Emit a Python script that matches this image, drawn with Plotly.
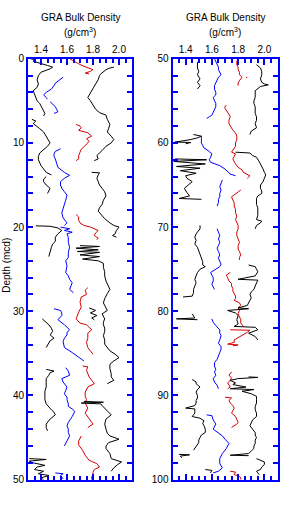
import plotly.graph_objects as go

# ---------------- data: segments of (depth [mcd], GRA density [g/cm3]) ----------------
# Left panel 0-50 mcd
black_a_top = [
    [(0.0,1.32),(0.1,1.35),(0.3,1.34),(0.5,1.39),(0.8,1.45),(1.0,1.49),(1.2,1.47),(1.6,1.40),(2.0,1.38),(2.5,1.37),
     (3.0,1.38),(3.4,1.37),(3.8,1.34),(4.2,1.35),(4.6,1.36),(5.0,1.37),(5.3,1.39),(5.8,1.41),(6.2,1.42),(6.5,1.43),(6.8,1.42)],
    [(7.2,1.33),(7.4,1.36),(7.7,1.34),(8.0,1.37),(8.3,1.39),(8.7,1.42),(9.2,1.44),(9.6,1.46),(10.0,1.47),(10.4,1.45),
     (10.8,1.42),(11.2,1.39),(11.6,1.38),(12.0,1.38),(12.7,1.40),(13.1,1.42),(13.5,1.44),(13.8,1.48)],
    [(14.0,1.44),(14.3,1.42),(14.6,1.42),(15.0,1.44),(15.4,1.47),(15.8,1.46),(16.0,1.45)],
    [(19.85,1.36),(19.9,1.47),(20.1,1.53),(20.4,1.56),(20.8,1.53),(21.2,1.51),(21.7,1.51),(22.0,1.49),(22.4,1.48),
     (22.9,1.47),(23.5,1.46)],
    [(30.9,1.41),(31.3,1.44),(31.6,1.46),(32.0,1.48),(32.4,1.49),(32.8,1.47),(33.2,1.50),(33.5,1.47),(33.8,1.46),(34.3,1.44)],
    [(36.9,1.44),(37.1,1.50),(37.3,1.47),(37.6,1.46),(38.0,1.44),(38.5,1.44),(39.0,1.44),(39.5,1.43),(40.0,1.43),
     (40.5,1.43),(41.0,1.44),(41.4,1.46),(41.7,1.48),(42.0,1.50),(42.3,1.51),(42.8,1.47),(43.4,1.44),(43.8,1.44),(44.2,1.45)],
    [(47.5,1.31),(47.6,1.44),(47.8,1.31),(48.0,1.34),(48.3,1.43),(48.5,1.37),(48.8,1.35),(49.0,1.42),(49.3,1.38),
     (49.5,1.46),(49.8,1.40),(50.0,1.42)],
]
blue_top = [
    [(2.2,1.57),(2.3,1.56),(2.6,1.53),(2.9,1.51),(3.2,1.50),(3.6,1.48),(4.0,1.44),(4.3,1.42),(4.6,1.44),(4.8,1.45)],
    [(5.1,1.47),(5.4,1.49),(5.7,1.51),(6.0,1.52),(6.3,1.53),(6.5,1.50)],
    [(10.7,1.55),(11.0,1.51),(11.3,1.50),(11.6,1.50),(11.9,1.51),(12.3,1.52),(12.9,1.53),(13.5,1.58),(13.85,1.62),
     (14.2,1.58),(14.6,1.55),(15.0,1.55),(15.4,1.56),(15.8,1.58),(16.2,1.60),(16.8,1.59),(17.3,1.58),(17.7,1.57),
     (18.3,1.56),(18.9,1.57),(19.5,1.60),(19.8,1.58)],
    [(20.0,1.55),(20.2,1.62),(20.4,1.58),(20.6,1.64),(20.8,1.60),(21.2,1.61),(21.8,1.61),(22.4,1.62),(23.0,1.61),
     (23.6,1.61),(24.0,1.59),(24.6,1.60),(25.4,1.59),(25.8,1.61),(26.2,1.62),(26.6,1.64),(27.0,1.63),(27.4,1.62),(27.8,1.65)],
    [(29.7,1.50),(29.9,1.55),(30.2,1.56),(30.5,1.56),(31.0,1.53),(31.3,1.56),(31.6,1.58),(32.2,1.62),(32.5,1.60),
     (32.8,1.60),(33.2,1.58),(33.6,1.57),(34.3,1.58),(34.9,1.64),(35.2,1.67),(35.5,1.70),(35.9,1.73)],
    [(36.7,1.59),(37.1,1.61),(37.6,1.62),(38.0,1.56),(38.4,1.57),(39.0,1.60),(39.4,1.59),(39.8,1.58),(40.2,1.60),
     (40.5,1.60),(41.0,1.61),(41.3,1.61),(41.6,1.64),(41.9,1.66),(42.5,1.64),(43.2,1.61),(43.6,1.60),(44.0,1.61),
     (44.4,1.61),(44.8,1.62),(45.4,1.60),(45.8,1.59),(46.0,1.58)],
    [(49.2,1.51),(49.3,1.57),(49.5,1.55),(49.7,1.56),(49.9,1.57)],
]
red_top = [
    [(0.0,1.62),(0.2,1.64),(0.4,1.67),(0.6,1.69),(0.9,1.73),(1.1,1.77),(1.3,1.80),(1.5,1.78),(1.7,1.74),(1.8,1.77)],
    [(7.8,1.67),(8.0,1.70),(8.2,1.71),(8.5,1.69),(8.8,1.76),(9.2,1.79),(9.5,1.75),(9.8,1.77),(10.0,1.76),(10.4,1.73),
     (10.75,1.71),(11.1,1.70),(11.5,1.69),(11.9,1.69),(12.1,1.67)],
    [(18.5,1.67),(18.8,1.69),(19.2,1.69),(19.5,1.70),(19.8,1.73),(20.0,1.78),(20.4,1.84),(20.7,1.82),(21.0,1.81),
     (21.3,1.84),(21.5,1.83)],
    [(27.2,1.76),(27.5,1.74),(28.0,1.75),(28.3,1.71),(28.9,1.70),(29.5,1.71),(30.1,1.69),(30.6,1.68),(30.9,1.67),
     (31.4,1.70),(31.6,1.75),(31.9,1.77),(32.2,1.79),(32.6,1.76),(33.2,1.76),(33.7,1.75),(34.3,1.76),(34.7,1.78),(35.1,1.80)],
    [(36.5,1.72),(36.6,1.76),(37.0,1.75),(37.4,1.76),(37.8,1.77),(38.2,1.79),(38.6,1.81),(39.0,1.76),(39.6,1.74),
     (40.1,1.74),(40.5,1.75),(40.9,1.74),(41.5,1.76),(42.1,1.74),(42.5,1.76),(42.8,1.77),(43.1,1.79),(43.4,1.80),(43.8,1.76)],
    [(44.8,1.71),(45.1,1.70),(45.4,1.69),(45.9,1.69),(46.5,1.72),(47.1,1.74),(47.5,1.76),(47.7,1.77),(48.1,1.83),
     (48.5,1.85),(48.8,1.81),(49.1,1.80),(49.4,1.80),(49.7,1.79),(50.0,1.79)],
]
black_b_top = [
    [(1.0,1.96),(1.1,1.93),(1.3,1.90),(1.5,1.88),(1.8,1.86),(2.0,1.85),(2.5,1.84),(3.0,1.82),(3.5,1.80),(4.0,1.78),
     (4.3,1.77),(4.6,1.76),(5.0,1.78),(5.5,1.80),(6.0,1.82),(6.4,1.85),(6.7,1.90),(7.2,1.91),(7.8,1.93),(8.3,1.92),
     (8.7,1.91),(9.2,1.94),(9.6,1.96),(10.0,1.94),(10.4,1.90),(10.9,1.87),(11.5,1.83),(11.9,1.84),(12.1,1.81)],
    [(13.5,1.79),(13.55,1.85),(13.8,1.84),(14.2,1.83),(14.6,1.84),(15.0,1.85),(15.4,1.87),(15.8,1.89),(16.3,1.90),
     (16.8,1.88),(17.3,1.87),(17.7,1.85),(18.1,1.84),(18.6,1.87),(19.0,1.89),(19.5,1.93),(19.8,1.96),(20.0,2.00),
     (20.4,1.98),(20.8,1.97),(21.0,1.95),(21.2,1.98)],
    [(22.2,1.70),(22.3,1.85),(22.5,1.67),(22.7,1.84),(22.9,1.68),(23.0,1.85),(23.3,1.70),(23.5,1.85),(23.8,1.72),
     (24.0,1.84),(24.3,1.88),(24.8,1.88),(25.3,1.89),(25.8,1.89),(26.4,1.90),(27.0,1.92),(27.4,1.93),(27.9,1.91),
     (28.5,1.89),(29.0,1.88),(29.5,1.90),(29.9,1.91),(30.3,1.87),(30.9,1.89),(31.3,1.88),(31.6,1.88),(32.0,1.89),
     (32.4,1.89),(32.9,1.88),(33.4,1.89),(33.9,1.89),(34.3,1.91),(34.7,1.93),(35.1,1.97),(35.5,2.00),(35.9,1.96),
     (36.3,1.93),(36.8,1.93),(37.4,1.94),(37.8,1.94),(38.2,1.96),(38.6,1.91)],
    [(29.6,1.77),(29.9,1.82),(30.2,1.78),(30.5,1.83),(30.8,1.79),(31.0,1.81)],
    [(40.7,1.73),(40.8,1.88),(40.9,1.71),(41.0,1.86),(41.2,1.87),(41.5,1.89),(41.9,1.92),(42.3,1.94),(42.8,1.90),
     (43.4,1.89),(44.0,1.90),(44.5,1.91),(44.8,1.93),(45.2,2.00),(45.6,1.92),(46.0,1.90),(46.3,1.90),(46.9,1.93),
     (47.5,1.94),(47.9,2.02),(48.2,1.99),(48.6,1.96),(49.0,1.94)],
]

# Right panel 50-100 mcd
black_a_bot = [
    [(50.0,1.51),(50.3,1.50),(50.5,1.49),(51.1,1.49),(51.5,1.50),(51.9,1.49),(52.4,1.51),(52.8,1.49),(53.2,1.51),(53.6,1.49)],
    [(59.0,1.46),(59.2,1.52),(59.4,1.49),(59.6,1.44),(59.9,1.32),(59.95,1.44),(60.1,1.40)],
    [(61.9,1.32),(62.0,1.56),(62.2,1.31),(62.5,1.55),(62.8,1.33),(63.0,1.51),(63.3,1.36),(63.6,1.48),(63.9,1.40),
     (64.2,1.41),(64.6,1.45),(65.0,1.42),(65.4,1.39),(65.9,1.41),(66.3,1.43),(66.6,1.35),(66.7,1.52)],
    [(69.8,1.51),(70.2,1.51),(70.8,1.48),(71.2,1.47),(71.6,1.48),(72.0,1.47),(72.4,1.49),(72.8,1.50),(73.1,1.51),
     (73.7,1.52),(74.1,1.53),(74.5,1.53),(74.7,1.55),(75.0,1.51),(75.4,1.49),(75.8,1.48),(76.2,1.47),(76.6,1.48),
     (77.0,1.47),(77.4,1.46),(77.8,1.46),(78.2,1.45),(78.3,1.38)],
    [(80.3,1.45),(80.6,1.46),(80.8,1.47),(80.9,1.33),(81.0,1.49)],
    [(88.1,1.45),(88.4,1.48),(88.6,1.48),(89.0,1.51),(89.3,1.49),(89.6,1.48),(90.0,1.49),(90.3,1.49),(90.6,1.48),
     (90.9,1.48),(91.2,1.47),(91.5,1.40),(91.6,1.47),(92.1,1.47),(92.5,1.45),(92.7,1.51),(93.0,1.54),(93.3,1.53),
     (93.6,1.54),(94.0,1.55),(94.4,1.55),(94.7,1.52),(95.0,1.51),(95.3,1.50),(95.6,1.50),(96.1,1.48),(96.5,1.46)],
    [(97.0,1.35),(97.05,1.43),(97.2,1.36),(97.4,1.37)],
    [(98.8,1.55),(98.9,1.60),(99.2,1.59)],
]
blue_bot = [
    [(50.0,1.62),(50.3,1.63),(50.7,1.64),(51.0,1.65),(51.3,1.65),(51.6,1.66),(51.9,1.67),(52.2,1.65),(52.5,1.64),
     (52.8,1.63),(53.2,1.62),(53.6,1.62),(54.0,1.63),(54.3,1.63),(54.6,1.61),(55.0,1.62),(55.3,1.63),(55.7,1.63),
     (56.0,1.62),(56.3,1.61),(56.7,1.60),(56.9,1.58),(57.1,1.56)],
    [(59.2,1.52),(59.6,1.52),(60.0,1.52),(60.3,1.53),(60.6,1.54),(60.9,1.57),(61.3,1.60),(61.7,1.59),(62.0,1.58),
     (62.3,1.59),(62.5,1.62),(62.7,1.66),(63.1,1.70),(63.4,1.72),(63.7,1.74),(63.9,1.78)],
    [(64.4,1.68),(64.8,1.67),(65.2,1.66),(65.6,1.67),(66.0,1.66),(66.4,1.66),(66.7,1.65),(67.1,1.65),(67.5,1.64)],
    [(70.2,1.64),(70.6,1.65),(71.0,1.66),(71.4,1.65),(71.8,1.66),(72.2,1.65),(72.5,1.64),(72.9,1.65),(73.3,1.66),
     (73.7,1.65),(74.1,1.66),(74.4,1.67),(74.7,1.66),(75.0,1.63),(75.4,1.59),(75.7,1.60),(76.0,1.61),(76.4,1.61),
     (76.8,1.60),(77.1,1.61),(77.4,1.62)],
    [(80.9,1.60),(81.3,1.61),(81.7,1.63),(82.2,1.66),(82.6,1.66),(82.9,1.67),(83.4,1.66),(83.8,1.65),(84.2,1.67),
     (84.5,1.67),(84.9,1.66),(85.3,1.65),(85.7,1.64),(86.1,1.62),(86.5,1.62),(86.9,1.63),(87.2,1.62),(87.6,1.63),
     (88.0,1.61),(88.4,1.62),(88.8,1.64),(89.2,1.65)],
    [(92.3,1.56),(92.4,1.60),(92.9,1.61),(93.4,1.63),(94.0,1.61),(94.4,1.65),(94.8,1.68),(95.2,1.70),(95.7,1.73),
     (96.3,1.71),(96.9,1.68),(97.5,1.66),(98.1,1.66),(98.6,1.68),(99.0,1.65),(99.2,1.61)],
]
red_bot = [
    [(50.0,1.80),(50.3,1.79),(50.7,1.79),(51.0,1.80),(51.3,1.80),(51.6,1.81),(51.9,1.81),(52.2,1.83),(52.6,1.81),
     (52.9,1.80),(53.2,1.80)],
    [(52.2,1.86),(52.25,1.87)],
    [(55.5,1.71),(55.7,1.70),(55.9,1.70),(56.3,1.72),(56.6,1.73),(56.9,1.74),(57.3,1.73),(57.7,1.73),(58.2,1.75),
     (58.5,1.76),(58.8,1.78),(59.2,1.79),(59.6,1.79),(60.0,1.78),(60.4,1.78),(60.8,1.76),(61.1,1.75),(61.3,1.78),
     (61.9,1.76),(62.5,1.78),(62.9,1.80),(63.2,1.83),(63.5,1.84),(63.9,1.89),(64.2,1.87)],
    [(65.6,1.82),(65.9,1.79),(66.2,1.76),(66.4,1.75),(66.8,1.76),(67.1,1.77),(67.5,1.77),(67.9,1.78),(68.3,1.78),
     (68.7,1.79),(69.1,1.78),(69.5,1.79),(69.8,1.80),(70.2,1.80),(70.6,1.79),(71.0,1.79),(71.4,1.80),(71.8,1.81),
     (72.2,1.80),(72.6,1.80),(72.9,1.81),(73.3,1.82),(73.6,1.81),(73.9,1.81)],
    [(75.4,1.74),(75.7,1.71),(76.0,1.72),(76.4,1.73),(76.7,1.75),(77.0,1.75),(77.3,1.76),(77.6,1.76),(77.9,1.77),
     (78.2,1.78),(78.5,1.78),(78.7,1.77),(79.0,1.81),(79.3,1.82),(79.6,1.80),(79.9,1.81),(80.3,1.80),(80.7,1.81),
     (81.0,1.82),(81.4,1.82),(81.8,1.84)],
    [(82.2,1.74),(82.25,1.89),(82.5,1.87),(82.8,1.84),(83.0,1.81),(83.2,1.79),(83.4,1.77),(83.7,1.77),(83.9,1.72),
     (84.0,1.80),(84.1,1.76)],
    [(87.2,1.75),(87.4,1.74),(87.6,1.73),(87.9,1.75),(88.2,1.74),(88.5,1.72),(88.8,1.73),(89.0,1.74),(89.2,1.72)],
    [(90.2,1.70),(90.3,1.75),(90.6,1.73),(90.9,1.74),(91.2,1.76),(91.5,1.77),(91.8,1.76),(92.1,1.75),(92.5,1.78),
     (92.9,1.79),(93.2,1.80),(93.4,1.79),(93.8,1.75)],
    [(99.0,1.74),(99.1,1.78),(99.4,1.77),(99.6,1.81),(99.8,1.82),(100.0,1.82)],
]
black_b_bot = [
    [(50.7,1.94),(51.1,1.97),(51.5,1.98),(51.9,1.98),(52.4,1.97),(52.8,1.98),(53.0,2.00),(53.1,2.03),(53.3,1.97),
     (53.6,1.94),(53.8,1.93),(54.2,1.93),(54.6,1.93),(55.0,1.92),(55.3,1.92),(55.7,1.93),(56.1,1.93),(56.5,1.93),
     (56.9,1.94),(57.3,1.94),(57.7,1.93),(58.2,1.94),(58.6,1.90),(59.0,1.89)],
    [(61.1,1.78),(61.2,1.89),(61.5,1.91),(61.7,1.94),(62.2,1.96),(62.7,1.98),(63.1,1.99),(63.5,2.00),(63.8,2.01),
     (64.2,2.00),(64.6,1.99),(65.0,1.97),(65.4,1.97),(65.7,1.98),(66.0,1.98),(66.3,1.95),(66.6,1.94),(67.0,1.94),
     (67.3,1.94),(67.7,1.95),(68.1,1.95),(68.6,1.95),(69.1,1.94),(69.3,1.98),(69.5,1.97),(69.8,1.94),(70.2,1.93)],
    [(74.5,1.88),(74.7,1.93),(75.0,1.94),(75.3,1.95),(75.8,1.93),(76.2,1.80),(76.3,1.95),(76.6,1.94),(77.0,1.93),
     (77.4,1.92),(77.7,1.90),(78.0,1.89),(78.4,1.90),(78.7,1.89),(79.0,1.88),(79.3,1.87),(79.6,1.80),(79.7,1.88),
     (79.9,1.72),(80.2,1.78),(80.5,1.80),(81.0,1.79),(81.5,1.80),(81.8,1.77),(81.9,1.93),(82.2,1.95),(82.6,1.88),
     (83.0,1.93),(83.4,1.95)],
    [(87.8,1.88),(87.85,1.95),(88.0,1.80),(88.2,1.74),(88.5,1.78),(88.7,1.76),(89.0,1.86),(89.2,1.74),(89.3,1.92),
     (89.5,1.83),(89.8,1.90),(90.1,1.94),(90.5,1.94),(90.9,1.94),(91.3,1.93),(91.7,1.93),(92.1,1.94),(92.5,1.94),
     (92.9,1.91),(93.2,1.90),(93.6,1.89),(94.0,1.91),(94.4,1.93),(94.7,1.93),(95.0,1.94),(95.3,1.93),(95.7,1.93),
     (96.0,1.92),(96.3,1.92),(96.6,1.90),(96.9,1.88),(97.1,1.74),(97.15,1.88)],
    [(97.5,1.94),(97.8,1.98),(97.9,2.00),(98.2,2.00),(98.5,1.98),(98.8,1.97),(99.0,1.94),(99.2,1.95),(99.4,1.96)],
]

x_ticks = [1.4, 1.6, 1.8, 2.0]
x_range = [1.3, 2.1]
top_range = [50, 0]
bot_range = [100, 50]

BLACK = "#000000"
BLUE = "#0000ff"
RED = "#d40000"
AXIS = "#0000ff"
FONT = "Liberation Sans, Arial, Helvetica, sans-serif"


def flatten(segments):
    xs, ys = [], []
    for seg in segments:
        for d, v in seg:
            xs.append(v)
            ys.append(d)
        xs.append(None)
        ys.append(None)
    return xs, ys


fig = go.Figure()
for segs, color, xa, ya in [
    (black_a_top, BLACK, "x", "y"), (blue_top, BLUE, "x", "y"),
    (red_top, RED, "x", "y"), (black_b_top, BLACK, "x", "y"),
    (black_a_bot, BLACK, "x2", "y2"), (blue_bot, BLUE, "x2", "y2"),
    (red_bot, RED, "x2", "y2"), (black_b_bot, BLACK, "x2", "y2"),
]:
    xs, ys = flatten(segs)
    fig.add_trace(go.Scatter(x=xs, y=ys, mode="lines", xaxis=xa, yaxis=ya,
                             line=dict(color=color, width=1), connectgaps=False,
                             showlegend=False, hoverinfo="skip"))

W, H = 300, 513
ytop, ybot = 54, 485
ydom = [1 - ybot / H, 1 - ytop / H]

xstyle = dict(range=x_range, side="top", tickvals=x_ticks, ticktext=[f"{v:.1f}" for v in x_ticks],
              showline=True, linecolor=AXIS, linewidth=2, mirror="ticks",
              ticks="inside", tickcolor=AXIS, ticklen=6, tickwidth=1.5,
              minor=dict(ticks="inside", dtick=0.05, tick0=1.3, ticklen=4, tickcolor=AXIS, tickwidth=1.5),
              showgrid=False, zeroline=False, tickfont=dict(family=FONT, size=10, color="black"))
ystyle = dict(showline=True, linecolor=AXIS, linewidth=2, mirror="ticks",
              ticks="inside", tickcolor=AXIS, ticklen=5, tickwidth=1.5, dtick=10,
              minor=dict(ticks="inside", dtick=2, ticklen=5, tickcolor=AXIS, tickwidth=1.5),
              showgrid=False, zeroline=False, tickfont=dict(family=FONT, size=10, color="black"))

fig.update_layout(
    width=W, height=H, autosize=False,
    margin=dict(l=0, r=0, t=0, b=0),
    paper_bgcolor="white", plot_bgcolor="white",
    xaxis=dict(domain=[28 / W, 132 / W], anchor="y", **xstyle),
    yaxis=dict(domain=ydom, range=top_range, anchor="x", tick0=0, **ystyle),
    xaxis2=dict(domain=[172.5 / W, 277.5 / W], anchor="y2", **xstyle),
    yaxis2=dict(domain=ydom, range=bot_range, anchor="x2", tick0=50, **ystyle),
)

for cx in (80, 225):
    fig.add_annotation(text="GRA Bulk Density", x=cx / W, y=1 - 11.5 / H, xref="paper", yref="paper",
                       showarrow=False, xanchor="center", yanchor="middle",
                       font=dict(family=FONT, size=10, color="black"))
    fig.add_annotation(text="(g/cm<sup>3</sup>)", x=cx / W, y=1 - 27 / H, xref="paper", yref="paper",
                       showarrow=False, xanchor="center", yanchor="middle",
                       font=dict(family=FONT, size=10, color="black"))
fig.add_annotation(text="Depth (mcd)", x=7 / W, y=1 - 266 / H, xref="paper", yref="paper",
                   showarrow=False, textangle=-90, xanchor="center", yanchor="middle",
                   font=dict(family=FONT, size=10, color="black"))

fig.write_html("out.html")
